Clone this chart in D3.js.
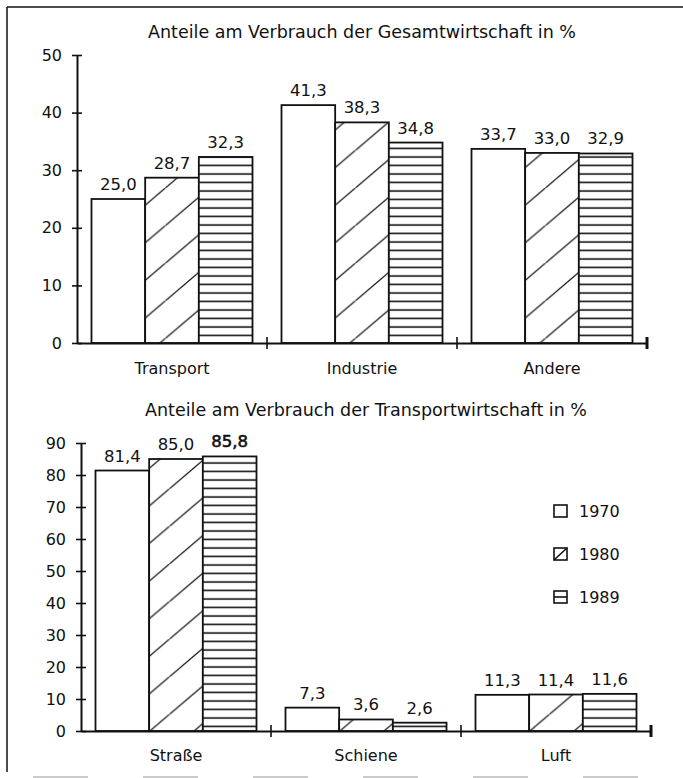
<!DOCTYPE html>
<html>
<head>
<meta charset="utf-8">
<script src="https://cdn.jsdelivr.net/npm/d3@7"></script>
<style>
  html, body { margin: 0; padding: 0; background: #fff; }
  svg text { font-family: "DejaVu Sans", sans-serif; fill: #111; }
</style>
</head>
<body>
<svg id="chart" width="683" height="778"></svg>
<script>
// ---- data ----
const years = ["1970", "1980", "1989"];

const topTitle = "Anteile am Verbrauch der Gesamtwirtschaft in %";
const topCategories = ["Transport", "Industrie", "Andere"];
const top1970 = [25.0, 41.3, 33.7];
const top1980 = [28.7, 38.3, 33.0];
const top1989 = [32.3, 34.8, 32.9];
const topTicks = [0, 10, 20, 30, 40, 50];

const botTitle = "Anteile am Verbrauch der Transportwirtschaft in %";
const botCategories = ["Straße", "Schiene", "Luft"];
const bot1970 = [81.4, 7.3, 11.3];
const bot1980 = [85.0, 3.6, 11.4];
const bot1989 = [85.8, 2.6, 11.6];
const botTicks = [0, 10, 20, 30, 40, 50, 60, 70, 80, 90];

// ---- setup ----
const svg = d3.select("#chart");
const fmt = v => d3.format(".1f")(v).replace(".", ",");
const INK = "#111";

const defs = svg.append("defs");
// diagonal hatch (1980)
const diag = defs.append("pattern").attr("id", "diag")
  .attr("patternUnits", "userSpaceOnUse").attr("width", 44.2).attr("height", 37.6);
diag.append("rect").attr("width", 44.2).attr("height", 37.6).attr("fill", "#fff");
diag.append("path").attr("d", "M-4.42,41.36 L48.62,-3.76")
  .attr("stroke", INK).attr("stroke-width", 1.3).attr("fill", "none");
// horizontal lines (1989)
const horiz = defs.append("pattern").attr("id", "horiz")
  .attr("patternUnits", "userSpaceOnUse").attr("width", 10).attr("height", 8.5);
horiz.append("rect").attr("width", 10).attr("height", 8.5).attr("fill", "#fff");
horiz.append("line").attr("x1", 0).attr("x2", 10).attr("y1", 4).attr("y2", 4)
  .attr("stroke", INK).attr("stroke-width", 1.6);

const fills = { "1970": "#fff", "1980": "url(#diag)", "1989": "url(#horiz)" };

// frame (scan border)
svg.append("line").attr("x1", 7).attr("x2", 683).attr("y1", 7).attr("y2", 7)
  .attr("stroke", INK).attr("stroke-width", 1.5);
svg.append("line").attr("x1", 7).attr("x2", 7).attr("y1", 7).attr("y2", 772)
  .attr("stroke", INK).attr("stroke-width", 1.5);
svg.append("line").attr("x1", 33).attr("x2", 683).attr("y1", 777).attr("y2", 777)
  .attr("stroke", "#bbb").attr("stroke-width", 1.5).attr("stroke-dasharray", "55,55");

function drawChart(cfg) {
  const g = svg.append("g");
  const x = d3.scaleBand().domain(cfg.categories).range([cfg.x0, cfg.x1]).padding(0);
  const xs = d3.scaleBand().domain(years).range([0, x.bandwidth()])
    .paddingInner(0).paddingOuter(0.27);
  const y = d3.scaleLinear().domain([0, d3.max(cfg.ticks)]).range([cfg.y0, cfg.yTop]);

  // title
  g.append("text").attr("x", (cfg.x0 + cfg.x1) / 2).attr("y", cfg.titleY)
    .attr("text-anchor", "middle").attr("font-size", 17.5).text(cfg.title);

  const rows = cfg.categories.map((c, i) => ({
    cat: c,
    vals: years.map((yr, j) => ({ yr, v: cfg.series[j][i] }))
  }));

  const grp = g.selectAll("g.cat").data(rows).join("g")
    .attr("transform", d => `translate(${x(d.cat)},0)`);

  grp.selectAll("rect").data(d => d.vals).join("rect")
    .attr("x", d => xs(d.yr))
    .attr("y", d => y(d.v))
    .attr("width", xs.bandwidth())
    .attr("height", d => y(0) - y(d.v))
    .attr("fill", d => fills[d.yr])
    .attr("stroke", INK).attr("stroke-width", 1.8);

  grp.selectAll("text.val").data(d => d.vals).join("text")
    .attr("class", "val")
    .attr("x", d => xs(d.yr) + xs.bandwidth() / 2)
    .attr("y", d => y(d.v) - 9)
    .attr("text-anchor", "middle").attr("font-size", 16.5)
    .attr("stroke", d => (cfg.bold && cfg.bold(d)) ? INK : "none")
    .attr("stroke-width", 0.6)
    .text(d => fmt(d.v));

  // y axis
  const ya = g.append("g").attr("transform", `translate(${cfg.x0},0)`)
    .call(d3.axisLeft(y).tickValues(cfg.ticks).tickSize(5).tickSizeOuter(0).tickFormat(d3.format("d")));
  ya.select(".domain").attr("stroke", INK).attr("stroke-width", 2);
  ya.selectAll(".tick line").attr("x1", -5).attr("x2", 5).attr("stroke", INK).attr("stroke-width", 1.6);
  ya.selectAll(".tick text").attr("x", -15).attr("font-size", 16)
    .attr("font-family", "DejaVu Sans, sans-serif").attr("fill", INK);

  // x axis
  const xa = g.append("g").attr("transform", `translate(0,${y(0)})`)
    .call(d3.axisBottom(x).tickSize(0).tickSizeOuter(0));
  xa.select(".domain").attr("stroke", INK).attr("stroke-width", 2);
  xa.selectAll(".tick text").attr("y", cfg.catLabelDy).attr("dy", 0).attr("font-size", 16)
    .attr("font-family", "DejaVu Sans, sans-serif").attr("fill", INK);
  // category boundary ticks
  xa.selectAll("line.bound").data(cfg.categories).join("line")
    .attr("class", "bound")
    .attr("x1", d => x(d) + x.step()).attr("x2", d => x(d) + x.step())
    .attr("y1", -6).attr("y2", 6)
    .attr("stroke", INK).attr("stroke-width", (d, i) => i === cfg.categories.length - 1 ? 3 : 1.6);
}

drawChart({
  title: topTitle, titleY: 38, categories: topCategories,
  series: [top1970, top1980, top1989], ticks: topTicks,
  x0: 77, x1: 647, y0: 343, yTop: 55, catLabelDy: 31
});

drawChart({
  title: botTitle, titleY: 416, categories: botCategories,
  series: [bot1970, bot1980, bot1989], ticks: botTicks,
  x0: 81, x1: 651, y0: 731, yTop: 443, catLabelDy: 30,
  bold: d => d.yr === "1989" && d.v > 80
});

// legend
const legend = svg.append("g").attr("transform", "translate(554,505)");
const li = legend.selectAll("g").data(years).join("g")
  .attr("transform", (d, i) => `translate(0,${i * 43})`);
li.append("rect").attr("width", 13).attr("height", 12)
  .attr("fill", "#fff").attr("stroke", INK).attr("stroke-width", 1.6);
li.filter(d => d === "1980").append("line")
  .attr("x1", 0).attr("y1", 12).attr("x2", 13).attr("y2", 0)
  .attr("stroke", INK).attr("stroke-width", 1.6);
li.filter(d => d === "1989").append("line")
  .attr("x1", 0).attr("y1", 6).attr("x2", 13).attr("y2", 6)
  .attr("stroke", INK).attr("stroke-width", 1.6);
li.append("text").attr("x", 25).attr("y", 6).attr("dy", "0.36em")
  .attr("font-size", 16).text(d => d);
</script>
</body>
</html>
